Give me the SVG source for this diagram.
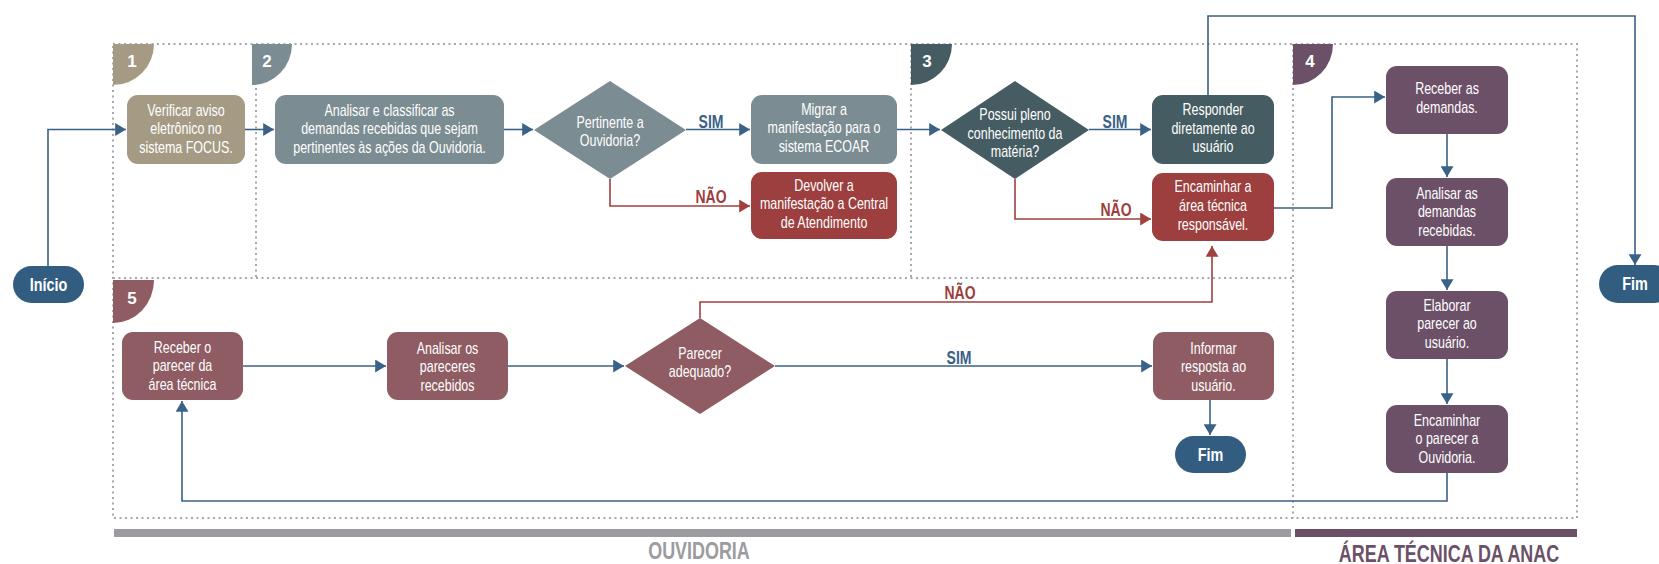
<svg xmlns="http://www.w3.org/2000/svg" width="1659" height="564" viewBox="0 0 1659 564">
<defs>
<style>
text{font-family:"Liberation Sans",Arial,sans-serif;}
.t{fill:#fff;font-size:16px;text-anchor:middle;}
.b{fill:#fff;font-size:18px;font-weight:bold;text-anchor:middle;}
.n{fill:#fff;font-size:17px;font-weight:bold;text-anchor:middle;}
.lb{fill:#3a6187;font-size:17.5px;font-weight:bold;text-anchor:middle;}
.lr{fill:#9d3e3d;font-size:17.5px;font-weight:bold;text-anchor:middle;}
.dot{stroke:#a6a8ab;stroke-width:2;stroke-dasharray:2 3.5;fill:none;}
.cb{stroke:#3a6187;stroke-width:1.6;fill:none;marker-end:url(#ab);}
.cr{stroke:#a0403f;stroke-width:1.6;fill:none;marker-end:url(#ar);}
.tan{fill:#a59b85;}
.sl{fill:#7b8c92;}
.dk{fill:#455c62;}
.red{fill:#9c3f3e;}
.pur{fill:#6c5068;}
.ros{fill:#8e5c62;}
.blu{fill:#335d80;}
</style>
<marker id="ab" viewBox="0 0 10 12" refX="10" refY="6" markerWidth="11" markerHeight="13" markerUnits="userSpaceOnUse" orient="auto"><path d="M0,0 L10,6 L0,12 z" fill="#3a6187"/></marker>
<marker id="ar" viewBox="0 0 10 12" refX="10" refY="6" markerWidth="11" markerHeight="13" markerUnits="userSpaceOnUse" orient="auto"><path d="M0,0 L10,6 L0,12 z" fill="#a0403f"/></marker>
</defs>
<rect width="1659" height="564" fill="#fff"/>

<g id="lanes">
<path class="dot" d="M113,44 H1577 V518 H113 Z"/>
<path class="dot" d="M1293,44 V518"/>
<path class="dot" d="M113,278 H1293"/>
<path class="dot" d="M256,44 V278"/>
<path class="dot" d="M911,44 V278"/>
<rect x="114" y="529" width="1177" height="8" fill="#9c9ca0"/>
<rect x="1295" y="529" width="282" height="8" fill="#6c5068"/>
<text transform="matrix(0.78 0 0 1 699 0)" x="0" y="559" font-size="23" font-weight="bold" fill="#9c9ca0" text-anchor="middle">OUVIDORIA</text>
<text transform="matrix(0.78 0 0 1 1449 0)" x="0" y="562" font-size="23" font-weight="bold" fill="#6c5068" text-anchor="middle">ÁREA TÉCNICA DA ANAC</text>
</g>

<g id="badges">
<path class="tan" d="M113,44 h41 a41,41 0 0 1 -41,41 z"/><text class="n" x="132" y="67">1</text>
<path class="sl" d="M252,44 h40 a40,41 0 0 1 -40,41 z"/><text class="n" x="267" y="67">2</text>
<path class="dk" d="M911,44 h41 a41,41 0 0 1 -41,41 z"/><text class="n" x="927" y="67">3</text>
<path class="pur" d="M1293,44 h40 a40,41 0 0 1 -40,41 z"/><text class="n" x="1310" y="67">4</text>
<path class="ros" d="M113,280 h41 a41,43 0 0 1 -41,43 z"/><text class="n" x="132" y="304">5</text>
</g>

<g id="connectors">
<path class="cb" d="M48,266 V129.5 H126"/>
<path class="cb" d="M245,129.5 H274"/>
<path class="cb" d="M504,129.5 H533"/>
<path class="cb" d="M686,129.5 H750"/>
<path class="cr" d="M610,179 V206 H750"/>
<path class="cb" d="M897,129.5 H940"/>
<path class="cb" d="M1089,129.5 H1151"/>
<path class="cr" d="M1015,179 V219 H1151"/>
<path class="cb" d="M1208,95 V16 H1635 V265"/>
<path class="cb" d="M1274,208 H1332 V97 H1385"/>
<path class="cb" d="M1447,134 V177"/>
<path class="cb" d="M1447,246 V290"/>
<path class="cb" d="M1447,359 V404"/>
<path class="cb" d="M1447,473 V501 H182 V401"/>
<path class="cb" d="M243,366 H386"/>
<path class="cb" d="M508,366 H624"/>
<path class="cb" d="M775,366 H1152"/>
<path class="cr" d="M700,318 V302 H1212 V246"/>
<path class="cb" d="M1210,400 V435"/>
<text class="lb" transform="matrix(0.8 0 0 1 711 0)" x="0" y="128">SIM</text>
<text class="lr" transform="matrix(0.8 0 0 1 711 0)" x="0" y="203">NÃO</text>
<text class="lb" transform="matrix(0.8 0 0 1 1115 0)" x="0" y="128">SIM</text>
<text class="lr" transform="matrix(0.8 0 0 1 1116 0)" x="0" y="216">NÃO</text>
<text class="lr" transform="matrix(0.8 0 0 1 960 0)" x="0" y="299">NÃO</text>
<text class="lb" transform="matrix(0.8 0 0 1 959 0)" x="0" y="364">SIM</text>
</g>

<g id="inicio"><rect class="blu" x="13" y="266" width="71" height="37" rx="18.5"/><text class="b" transform="matrix(0.8 0 0 1 48.5 0)" x="0" y="291">Início</text></g>
<g id="fim1"><rect class="blu" x="1599" y="265" width="74" height="38" rx="19"/><text class="b" transform="matrix(0.8 0 0 1 1635 0)" x="0" y="290">Fim</text></g>
<g id="fim2"><rect class="blu" x="1175" y="436" width="71" height="37" rx="18.5"/><text class="b" transform="matrix(0.8 0 0 1 1210.5 0)" x="0" y="461">Fim</text></g>

<g id="verificar"><rect class="tan" x="127" y="95" width="118" height="69" rx="11"/>
<g transform="matrix(0.78 0 0 1 186 0)"><text class="t" x="0" y="116">Verificar aviso</text><text class="t" x="0" y="134.5">eletrônico no</text><text class="t" x="0" y="153">sistema FOCUS.</text></g></g>

<g id="analisar-classificar"><rect class="sl" x="275" y="95" width="229" height="69" rx="11"/>
<g transform="matrix(0.78 0 0 1 389.5 0)"><text class="t" x="0" y="116">Analisar e classificar as</text><text class="t" x="0" y="134.5">demandas recebidas que sejam</text><text class="t" x="0" y="153">pertinentes às ações da Ouvidoria.</text></g></g>

<g id="pertinente"><polygon class="sl" points="534,130 610,81 686,130 610,179"/>
<g transform="matrix(0.78 0 0 1 610 0)"><text class="t" x="0" y="128">Pertinente a</text><text class="t" x="0" y="146">Ouvidoria?</text></g></g>

<g id="migrar"><rect class="sl" x="751" y="95" width="146" height="69" rx="11"/>
<g transform="matrix(0.78 0 0 1 824 0)"><text class="t" x="0" y="115">Migrar a</text><text class="t" x="0" y="133.5">manifestação para o</text><text class="t" x="0" y="152">sistema ECOAR</text></g></g>

<g id="devolver"><rect class="red" x="751" y="172" width="146" height="67" rx="11"/>
<g transform="matrix(0.78 0 0 1 824 0)"><text class="t" x="0" y="191">Devolver a</text><text class="t" x="0" y="209.5">manifestação a Central</text><text class="t" x="0" y="228">de Atendimento</text></g></g>

<g id="possui"><polygon class="dk" points="941,130 1015,81 1089,130 1015,179"/>
<g transform="matrix(0.78 0 0 1 1015 0)"><text class="t" x="0" y="120.5">Possui pleno</text><text class="t" x="0" y="139">conhecimento da</text><text class="t" x="0" y="157.5">matéria?</text></g></g>

<g id="responder"><rect class="dk" x="1152" y="95" width="122" height="69" rx="11"/>
<g transform="matrix(0.78 0 0 1 1213 0)"><text class="t" x="0" y="115.5">Responder</text><text class="t" x="0" y="134">diretamente ao</text><text class="t" x="0" y="152.5">usuário</text></g></g>

<g id="encaminhar-area"><rect class="red" x="1152" y="173" width="122" height="68" rx="11"/>
<g transform="matrix(0.78 0 0 1 1213 0)"><text class="t" x="0" y="192.5">Encaminhar a</text><text class="t" x="0" y="211.5">área técnica</text><text class="t" x="0" y="230.5">responsável.</text></g></g>

<g id="receber-demandas"><rect class="pur" x="1386" y="66" width="122" height="68" rx="11"/>
<g transform="matrix(0.78 0 0 1 1447 0)"><text class="t" x="0" y="94">Receber as</text><text class="t" x="0" y="113">demandas.</text></g></g>

<g id="analisar-demandas"><rect class="pur" x="1386" y="178" width="122" height="68" rx="11"/>
<g transform="matrix(0.78 0 0 1 1447 0)"><text class="t" x="0" y="199">Analisar as</text><text class="t" x="0" y="217.5">demandas</text><text class="t" x="0" y="236">recebidas.</text></g></g>

<g id="elaborar"><rect class="pur" x="1386" y="291" width="122" height="68" rx="11"/>
<g transform="matrix(0.78 0 0 1 1447 0)"><text class="t" x="0" y="311">Elaborar</text><text class="t" x="0" y="329.5">parecer ao</text><text class="t" x="0" y="348">usuário.</text></g></g>

<g id="encaminhar-parecer"><rect class="pur" x="1386" y="405" width="122" height="68" rx="11"/>
<g transform="matrix(0.78 0 0 1 1447 0)"><text class="t" x="0" y="426">Encaminhar</text><text class="t" x="0" y="444.5">o parecer a</text><text class="t" x="0" y="463">Ouvidoria.</text></g></g>

<g id="receber-parecer"><rect class="ros" x="122" y="332" width="121" height="68" rx="11"/>
<g transform="matrix(0.78 0 0 1 182.5 0)"><text class="t" x="0" y="353">Receber o</text><text class="t" x="0" y="371.5">parecer da</text><text class="t" x="0" y="390">área técnica</text></g></g>

<g id="analisar-pareceres"><rect class="ros" x="387" y="332" width="121" height="68" rx="11"/>
<g transform="matrix(0.78 0 0 1 447.5 0)"><text class="t" x="0" y="354">Analisar os</text><text class="t" x="0" y="372.5">pareceres</text><text class="t" x="0" y="391">recebidos</text></g></g>

<g id="parecer-adequado"><polygon class="ros" points="625,366 700,318 775,366 700,414"/>
<g transform="matrix(0.78 0 0 1 700 0)"><text class="t" x="0" y="359">Parecer</text><text class="t" x="0" y="377.5">adequado?</text></g></g>

<g id="informar"><rect class="ros" x="1153" y="332" width="121" height="68" rx="11"/>
<g transform="matrix(0.78 0 0 1 1213.5 0)"><text class="t" x="0" y="354">Informar</text><text class="t" x="0" y="372.5">resposta ao</text><text class="t" x="0" y="391">usuário.</text></g></g>
</svg>
